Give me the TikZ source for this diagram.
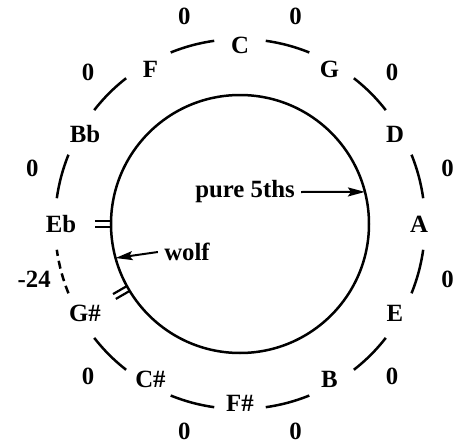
\documentclass[tikz,border=0pt]{standalone}
\usepackage{fontspec}
\setmainfont{Liberation Serif}[BoldFont={Liberation Serif Bold}]
\usetikzlibrary{arrows.meta}

\begin{document}
\begin{tikzpicture}[x=0.5pt, y=0.5pt, font=\fontsize{12.4}{14}\selectfont\bfseries,
  >={Stealth[length=8.5pt,width=4.5pt,inset=1.5pt]},
  note/.style={inner sep=0pt},
  cents/.style={inner sep=0pt},
  tempered/.style={line width=1.25pt},
  fifth/.style={line width=1.25pt},
  marker/.style={line width=1.1pt},
  pointer/.style={->, line width=1pt}]
  \useasboundingbox (-240,-221) rectangle (221,224);
  %% inner circle of fifths
  \draw[tempered] (0,0) circle (129);
  %% note names, every 30 degrees
  \foreach \ang/\nm/\id in {90/C/c, 60/G/g, 30/D/d, 0/A/a, -30/E/e, -60/B/b,
    -90/F\#/fs, -120/C\#/cs, -150/G\#/gs, 180/Eb/eb, 150/Bb/bb, 120/F/f}{
    \node[note] (n-\id) at (\ang:179) {\nm};
  }
  %% outer arcs with deviations in cents
  \foreach \mid/\val/\id in {105/0/1, 75/0/2, 45/0/3, 15/0/4, -15/0/5, -45/0/6,
    -75/0/7, -105/0/8, -135/0/9, 165/0/11, 135/0/12}{
    \draw[fifth] ({\mid+7}:185) arc[start angle={\mid+7}, end angle={\mid-7}, radius=185];
    \node[cents] (c-\id) at (\mid:215) {\val};
  }
  %% the wolf between Eb and G#
  \draw[fifth, dash pattern=on 4pt off 2.5pt] (202:185) arc[start angle=202, end angle=188, radius=185];
  \node[cents] (c-10) at (195:213) {-24};
  %% double ticks marking the wolf segment
  \foreach \ang in {180,210}{
    \begin{scope}[rotate=\ang]
      \draw[marker] (128.9,2.8) -- (145,2.8);
      \draw[marker] (128.9,-2.8) -- (145,-2.8);
    \end{scope}
  }
  %% labels with arrows
  \coordinate (pure) at (14.4:129);
  \coordinate (wolf) at (195.3:129);
  \node[inner sep=3pt] (lbl-pure) at (5,32) {pure 5ths};
  \node[inner sep=3pt] (lbl-wolf) at (-53,-28) {wolf};
  \draw[pointer] (lbl-pure.east) -- (pure);
  \draw[pointer] (lbl-wolf.west) -- (wolf);
\end{tikzpicture}
\end{document}
